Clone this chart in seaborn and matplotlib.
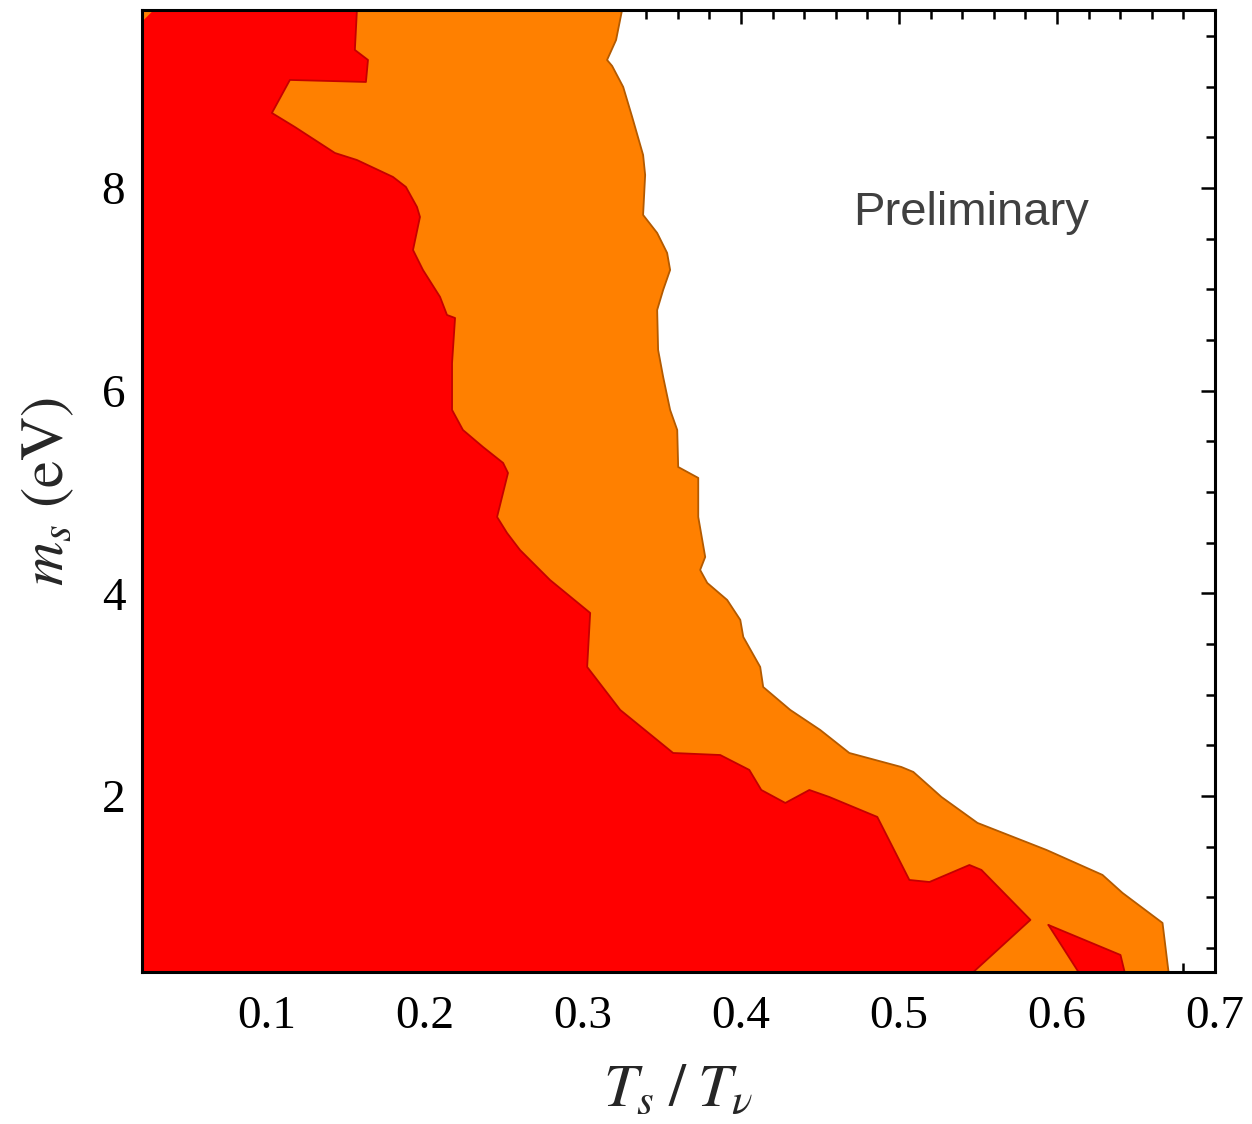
import matplotlib
matplotlib.use("Agg")
import matplotlib.pyplot as plt
import seaborn as sns
import numpy as np

# ---- data (x = T_s/T_nu, y = m_s in eV) ----
# outer (orange) region boundary, from top to bottom
orange_x = [0.3248, 0.3210, 0.3153, 0.3185, 0.3255, 0.3312, 0.3381, 0.3394, 0.3381,
            0.3470, 0.3533, 0.3552, 0.3508, 0.3470, 0.3476, 0.3508, 0.3552, 0.3597,
            0.3603, 0.3730, 0.3730, 0.3774, 0.3742, 0.3787, 0.3913, 0.3996, 0.4015,
            0.4122, 0.4141, 0.4312, 0.4502, 0.4686, 0.5015, 0.5091, 0.5269, 0.5497,
            0.5934, 0.6288, 0.6415, 0.6668, 0.6706]
orange_y = [9.756, 9.460, 9.263, 9.204, 8.997, 8.700, 8.326, 8.128, 7.734,
            7.556, 7.359, 7.191, 6.994, 6.796, 6.402, 6.135, 5.810, 5.612,
            5.247, 5.139, 4.754, 4.359, 4.231, 4.103, 3.935, 3.738, 3.570,
            3.274, 3.076, 2.850, 2.652, 2.425, 2.287, 2.238, 1.991, 1.735,
            1.468, 1.222, 1.044, 0.748, 0.264]

# inner (red) region boundary, from top to bottom
red_x = [0.1570, 0.1557, 0.1640, 0.1627, 0.1146, 0.1032, 0.1177, 0.1431, 0.1570,
         0.1798, 0.1880, 0.1950, 0.1969, 0.1925, 0.1988, 0.2096, 0.2140, 0.2191,
         0.2172, 0.2172, 0.2241, 0.2368, 0.2495, 0.2526, 0.2457, 0.2520, 0.2602,
         0.2792, 0.3046, 0.3027, 0.3236, 0.3571, 0.3869, 0.4053, 0.4129, 0.4281,
         0.4433, 0.4559, 0.4863, 0.5066, 0.5193, 0.5446, 0.5522, 0.5832, 0.5471]
red_y = [9.756, 9.362, 9.263, 9.046, 9.066, 8.740, 8.602, 8.345, 8.276,
         8.109, 8.010, 7.813, 7.714, 7.388, 7.191, 6.925, 6.747, 6.717,
         6.273, 5.810, 5.612, 5.444, 5.287, 5.188, 4.754, 4.596, 4.428,
         4.132, 3.807, 3.274, 2.850, 2.425, 2.405, 2.258, 2.060, 1.932,
         2.060, 1.991, 1.794, 1.172, 1.152, 1.320, 1.271, 0.778, 0.264]

# small red island near the bottom right
island_x = [0.5946, 0.6402, 0.6428, 0.6136]
island_y = [0.728, 0.432, 0.264, 0.264]

# small orange patch in the top-left corner
corner_x = [0.021, 0.0284, 0.021]
corner_y = [9.756, 9.756, 9.64]

xticks = [0.1, 0.2, 0.3, 0.4, 0.5, 0.6, 0.7]
xticklabels = ["0.1", "0.2", "0.3", "0.4", "0.5", "0.6", "0.7"]
yticks = [2, 4, 6, 8]
yticklabels = ["2", "4", "6", "8"]

XLIM = (0.021, 0.70)
YLIM = (0.264, 9.756)

RED = "#ff0000"
ORANGE = "#ff8000"
RED_EDGE = "#c40000"
ORANGE_EDGE = "#b35a00"

sns.set_style("ticks")
plt.rcParams["font.family"] = ["Liberation Serif", "DejaVu Serif"]
plt.rcParams["mathtext.fontset"] = "stix"

fig = plt.figure(figsize=(12.52, 11.24), dpi=100)
ax = fig.add_axes([142 / 1252, 1 - 972 / 1124, (1215 - 142) / 1252, (972 - 10) / 1124])
ax.set_facecolor("white")

lo_x, lo_y, hi_y = -0.1, -1.0, 11.0


def extend(xs, ys):
    # continue the boundary straight out of the plotting box (clipped by the axes)
    xs = list(xs)
    ys = list(ys)
    return [xs[0]] + xs + [xs[-1]], [hi_y] + ys + [lo_y]


ox, oy = extend(orange_x, orange_y)
rx, ry = extend(red_x, red_y)

ax.fill(ox + [lo_x, lo_x], oy + [lo_y, hi_y], color=ORANGE, lw=0, zorder=1)
ax.fill(rx + [lo_x, lo_x], ry + [lo_y, hi_y], color=RED, lw=0, zorder=2)
ax.fill([island_x[0], island_x[1], island_x[2], island_x[2], island_x[3], island_x[3]],
        [island_y[0], island_y[1], island_y[2], lo_y, lo_y, island_y[3]],
        color=RED, lw=0, zorder=2)
ax.fill(corner_x, corner_y, color=ORANGE, lw=0, zorder=3)

sns.lineplot(x=ox, y=oy, sort=False, estimator=None, color=ORANGE_EDGE, lw=1.3, ax=ax, zorder=4)
sns.lineplot(x=rx, y=ry, sort=False, estimator=None, color=RED_EDGE, lw=1.3, ax=ax, zorder=4)
sns.lineplot(x=island_x[:3], y=island_y[:3], sort=False, estimator=None,
             color=RED_EDGE, lw=1.3, ax=ax, zorder=4)
sns.lineplot(x=[island_x[0], island_x[3]], y=[island_y[0], island_y[3]], sort=False,
             estimator=None, color=RED_EDGE, lw=1.3, ax=ax, zorder=4)

ax.set_xlim(*XLIM)
ax.set_ylim(*YLIM)

ax.set_xticks(xticks)
ax.set_xticklabels(xticklabels)
ax.set_yticks(yticks)
ax.set_yticklabels(yticklabels)
ax.set_xticks(np.arange(0.04, 0.70, 0.02), minor=True)
ax.set_yticks(np.arange(0.5, 9.6, 0.5), minor=True)

for s in ax.spines.values():
    s.set_visible(True)
    s.set_linewidth(2.2)
    s.set_color("black")
    s.set_zorder(10)

ax.tick_params(which="both", direction="in", top=True, right=True, colors="black",
               labelsize=34, zorder=10)
ax.tick_params(which="major", length=10, width=1.8, pad=17)
ax.tick_params(which="minor", length=6.5, width=1.8)
ax.tick_params(axis="y", which="major", pad=12)

ax.set_xlabel(r"$T_s\;/\;T_\nu$", fontsize=44, labelpad=18)
ax.set_ylabel(r"$m_s\ (\mathrm{eV})$", fontsize=44, labelpad=18)

ax.text((853 - 142) / (1215 - 142), 1 - (213 - 10) / (972 - 10), "Preliminary",
        transform=ax.transAxes, fontsize=34, color="#404040",
        family=["Liberation Sans", "DejaVu Sans"], ha="left", va="center", zorder=5)

fig.savefig("out.png", dpi=100)
